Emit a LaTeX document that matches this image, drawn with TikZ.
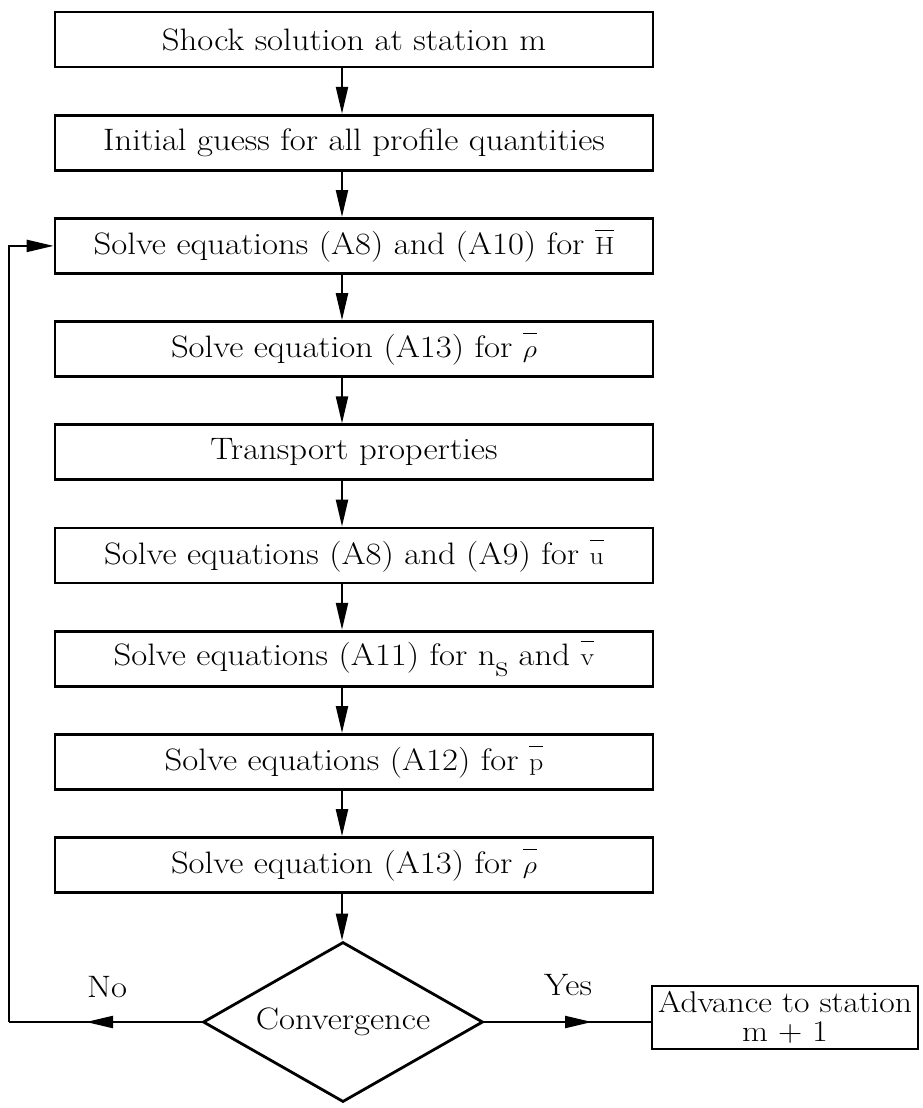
\documentclass[tikz,border=0pt]{standalone}
\usepackage{graphicx}
\usetikzlibrary{arrows.meta,shapes.geometric}
\newcommand{\ob}[1]{$\overline{\rule{0pt}{23pt}#1}$}
\newcommand{\ssub}{\raisebox{-11pt}{s}}
\newcommand{\widetxt}[1]{\scalebox{1.12}[1]{#1}}
\begin{document}
\begin{tikzpicture}[x=1pt,y=-1pt,
  every node/.style={font=\fontsize{31}{37}\selectfont},
  stepbox/.style={draw,line width=2.8pt,minimum width=598pt,minimum height=55pt,inner sep=0pt},
  link/.style={line width=2.2pt},
  arr/.style={line width=2.2pt,-{Triangle[length=27pt,width=12pt]}},
  lbl/.style={inner sep=0pt}]
\useasboundingbox (0,0) rectangle (923,1108);
\node[stepbox] (b1) at (354,39.5)  {\widetxt{Shock solution at station m}};
\node[stepbox] (b2) at (354,142.7) {\widetxt{Initial guess for all profile quantities}};
\node[stepbox] (b3) at (354,245.9) {\widetxt{Solve equations (A8) and (A10) for \ob{\mathrm{H}}}};
\node[stepbox] (b4) at (354,349.1) {\widetxt{Solve equation (A13) for \ob{\rho}}};
\node[stepbox] (b5) at (354,452.3) {\widetxt{Transport properties}};
\node[stepbox] (b6) at (354,555.5) {\widetxt{Solve equations (A8) and (A9) for \ob{\mathrm{u}}}};
\node[stepbox] (b7) at (354,658.7) {\widetxt{Solve equations (A11) for n\ssub\ and \ob{\mathrm{v}}}};
\node[stepbox] (b8) at (354,761.9) {\widetxt{Solve equations (A12) for \ob{\mathrm{p}}}};
\node[stepbox] (b9) at (354,865.1) {\widetxt{Solve equation (A13) for \ob{\rho}}};
\node[draw,diamond,line width=2.8pt,minimum width=280pt,minimum height=160pt,inner sep=0pt,aspect=1.75] (dia) at (343,1022) {\widetxt{Convergence}};
\node[draw,line width=2.8pt,minimum width=266pt,minimum height=63pt,inner sep=0pt,align=center,font=\fontsize{30}{29}\selectfont] (adv) at (785,1017.5) {\widetxt{Advance to station}\\\widetxt{m + 1}};
\node[lbl] (no) at (107,987) {\widetxt{No}};
\node[lbl] (yes) at (568,985) {\widetxt{Yes}};
\coordinate (corner) at (9,1022);
\coordinate (notip) at (86,1022);
\coordinate (yestip) at (592,1022);
\foreach \a/\b in {b1/b2,b2/b3,b3/b4,b4/b5,b5/b6,b6/b7,b7/b8,b8/b9}
  \draw[arr] ([xshift=-12pt]\a.south) -- ([xshift=-12pt]\b.north);
\draw[arr] ([xshift=-12pt]b9.south) -- ([xshift=-12pt]b9.south |- dia.north);
\draw[link] (dia.west) -- (corner);
\draw[arr] (dia.west) -- (notip);
\draw[arr] (corner) |- (b3.west);
\draw[link] (dia.east) -- (dia.east -| adv.west);
\draw[arr] (dia.east) -- (yestip);
\end{tikzpicture}
\end{document}
